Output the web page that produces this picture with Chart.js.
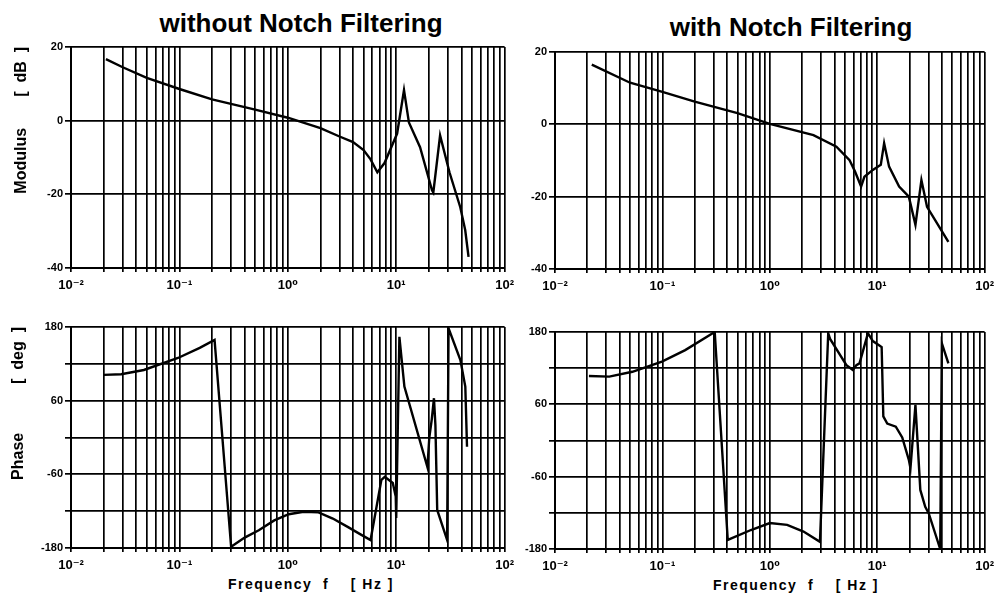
<!DOCTYPE html>
<html>
<head>
<meta charset="utf-8">
<script src="https://cdn.jsdelivr.net/npm/chart.js@4.4.0/dist/chart.umd.min.js"></script>
<style>
  html, body { margin:0; padding:0; background:#fff; }
  body { width:1000px; height:597px; position:relative; overflow:hidden; font-family:"Liberation Sans","DejaVu Sans",Arial,sans-serif; }
  canvas { position:absolute; }
  .ttl { position:absolute; font-weight:bold; color:#000; white-space:pre; transform:translate(-50%,-50%); }
</style>
</head>
<body>
<div class="ttl" style="left:301px; top:23px; font-size:26px;">without Notch Filtering</div>
<div class="ttl" style="left:791px; top:27px; font-size:26px;">with Notch Filtering</div>
<div class="ttl" style="left:311px; top:584px; font-size:14px; letter-spacing:1.5px;">Frequency  f    [ Hz ]</div>
<div class="ttl" style="left:796px; top:585px; font-size:14px; letter-spacing:1.5px;">Frequency  f    [ Hz ]</div>

<canvas id="c1" width="520" height="268" style="left:0px; top:30px;"></canvas>
<canvas id="c2" width="500" height="269" style="left:500px; top:30px;"></canvas>
<canvas id="c3" width="520" height="283" style="left:0px; top:310px;"></canvas>
<canvas id="c4" width="500" height="284" style="left:500px; top:310px;"></canvas>

<script>
// ---------- data ----------
// Modulus without notch filtering
const freqModA = [0.021, 0.03, 0.05, 0.1, 0.2, 0.5, 1.0, 2.0, 3.0, 4.0, 5.0, 5.8, 6.7, 7.8, 10.2, 11.8, 13.1, 16.6, 21.4, 22.0, 25.4, 31.0, 39.0, 43.3, 46.5];
const modA     = [16.7, 14.5, 11.6, 8.6, 5.8, 3.0, 0.8, -2.0, -4.3, -5.8, -8.0, -10.5, -14.0, -11.5, -3.5, 8.3, -0.5, -7.2, -18.9, -19.5, -4.0, -14.0, -23.5, -29.7, -37.0];
// Modulus with notch filtering
const freqModB = [0.022, 0.05, 0.1, 0.2, 0.5, 1.0, 2.55, 4.17, 5.53, 6.2, 7.08, 7.6, 9.1, 10.8, 11.6, 12.9, 16.0, 19.7, 22.7, 25.8, 29.1, 46.0];
const modB     = [16.5, 11.5, 9.0, 6.3, 3.1, 0.1, -3.0, -6.2, -9.9, -13.0, -17.2, -14.5, -12.6, -11.2, -5.2, -11.7, -17.2, -20.0, -27.8, -15.4, -22.8, -32.5];
// Phase without notch filtering
const freqPhA = [0.02, 0.029, 0.047, 0.097, 0.154, 0.211, 0.30, 0.40, 0.54, 0.75, 1.02, 1.4, 1.92, 2.6, 3.6, 4.6, 5.8, 7.3, 7.85, 9.3, 9.9, 10.0, 10.7, 11.9, 19.4, 20.2, 21.3, 22.3, 23.0, 23.9, 29.5, 30.4, 39.1, 43.4, 45.0];
const phaseA  = [102, 103, 110, 129.5, 146, 159, -178, -163, -151, -135, -125, -121, -122, -132, -146, -157, -167, -69, -64, -74, -96, -131, 164, 83, -48, 0, 30, 64, 20, -118, -167, 178, 126, 83, -15];
// Phase with notch filtering
const freqPhB = [0.0207, 0.032, 0.0525, 0.099, 0.163, 0.307, 0.406, 0.667, 1.0, 1.45, 2.06, 2.93, 3.5, 3.63, 5.17, 5.94, 6.4, 6.84, 8.2, 9.1, 10.4, 11.0, 11.4, 12.4, 14.9, 17.1, 19.7, 20.4, 22.7, 25.2, 28.0, 30.2, 38.6, 40.0, 46.0];
const phaseB  = [107, 106, 114, 131, 150, 180, -165, -148.5, -137, -140, -151, -168, 178, 169, 125, 117, 125, 128, 178, 165, 158, 155, 40, 28, 23, 5, -32, -46, 59, -82, -110, -121, -180, 161, 128];

// ---------- axis ticks ----------
const xDecades = [0.01, 0.1, 1, 10];
const xMultipliers = [1, 2, 3, 4, 5, 6, 7, 8, 9];
const xTickLabels = ['10\u207B\u00B2', '10\u207B\u00B9', '10\u2070', '10\u00B9', '10\u00B2'];
const modTicks = [20, 0, -20, -40];
const modTickLabels = ['20', '0', '-20', '-40'];
const phaseTicks = [180, 120, 60, 0, -60, -120, -180];
const phaseTickLabels = ['180', '', '60', '', '-60', '', '-180'];

const xGrid = [];
xDecades.forEach(d => xMultipliers.forEach(m => xGrid.push(+(d * m).toPrecision(3))));
xGrid.push(100);

const FONT = '"Liberation Sans","DejaVu Sans",Arial,sans-serif';

function makeChart(id, o) {
  const pts = o.freqs.map((f, i) => ({ x: f, y: o.vals[i] }));
  new Chart(document.getElementById(id), {
    type: 'line',
    data: { datasets: [{ data: pts, borderColor: '#000', borderWidth: 2.4, pointRadius: 0, tension: 0, fill: false }] },
    options: {
      responsive: false, animation: false,
      layout: { padding: { top: o.padTop, right: o.padRight, left: 0, bottom: 0 } },
      plugins: { legend: { display: false }, tooltip: { enabled: false } },
      scales: {
        x: {
          type: 'logarithmic', min: 0.01, max: 100,
          afterBuildTicks: s => { s.ticks = xGrid.map(v => ({ value: v })); },
          afterFit: s => { s.height = o.xHeight; },
          ticks: {
            autoSkip: false, maxRotation: 0, minRotation: 0, padding: 6, color: '#000',
            font: { family: FONT, size: 13, weight: 'bold' },
            callback: (v, i) => (i % 9 === 0 ? xTickLabels[i / 9] : '')
          },
          grid: { color: '#000', lineWidth: 1.7, tickLength: 4, drawTicks: true },
          border: { display: true, color: '#000', width: 2 }
        },
        y: {
          min: o.yMin, max: o.yMax,
          afterBuildTicks: s => { s.ticks = o.yTicks.map(v => ({ value: v })); },
          afterFit: s => { s.width = o.yWidth; },
          ticks: {
            autoSkip: false, padding: 2, color: '#000',
            font: { family: FONT, size: 11, weight: 'bold' },
            callback: (v, i) => o.yLabels[i]
          },
          grid: { color: '#000', lineWidth: 1.7, tickLength: 6, drawTicks: true },
          border: { display: true, color: '#000', width: 2 },
          title: o.yTitle ? {
            display: true, text: o.yTitle, align: 'end', color: '#000',
            font: { family: FONT, size: 16, weight: 'bold' },
            padding: { top: o.titlePad, bottom: 0 }
          } : { display: false }
        }
      }
    }
  });
}

makeChart('c1', { freqs: freqModA, vals: modA, yMin: -40, yMax: 20, yTicks: modTicks, yLabels: modTickLabels,
  yTitle: 'Modulus       [  dB  ]', titlePad: 12, padTop: 17, padRight: 12, yWidth: 71, xHeight: 30 });
makeChart('c2', { freqs: freqModB, vals: modB, yMin: -40, yMax: 20, yTicks: modTicks, yLabels: modTickLabels,
  yTitle: null, padTop: 22, padRight: 10, yWidth: 55, xHeight: 30 });
makeChart('c3', { freqs: freqPhA, vals: phaseA, yMin: -180, yMax: 180, yTicks: phaseTicks, yLabels: phaseTickLabels,
  yTitle: 'Phase           [  deg  ]', titlePad: 9, padTop: 17, padRight: 12, yWidth: 71, xHeight: 45 });
makeChart('c4', { freqs: freqPhB, vals: phaseB, yMin: -180, yMax: 180, yTicks: phaseTicks, yLabels: phaseTickLabels,
  yTitle: null, padTop: 22, padRight: 10, yWidth: 55, xHeight: 45 });
</script>
</body>
</html>
